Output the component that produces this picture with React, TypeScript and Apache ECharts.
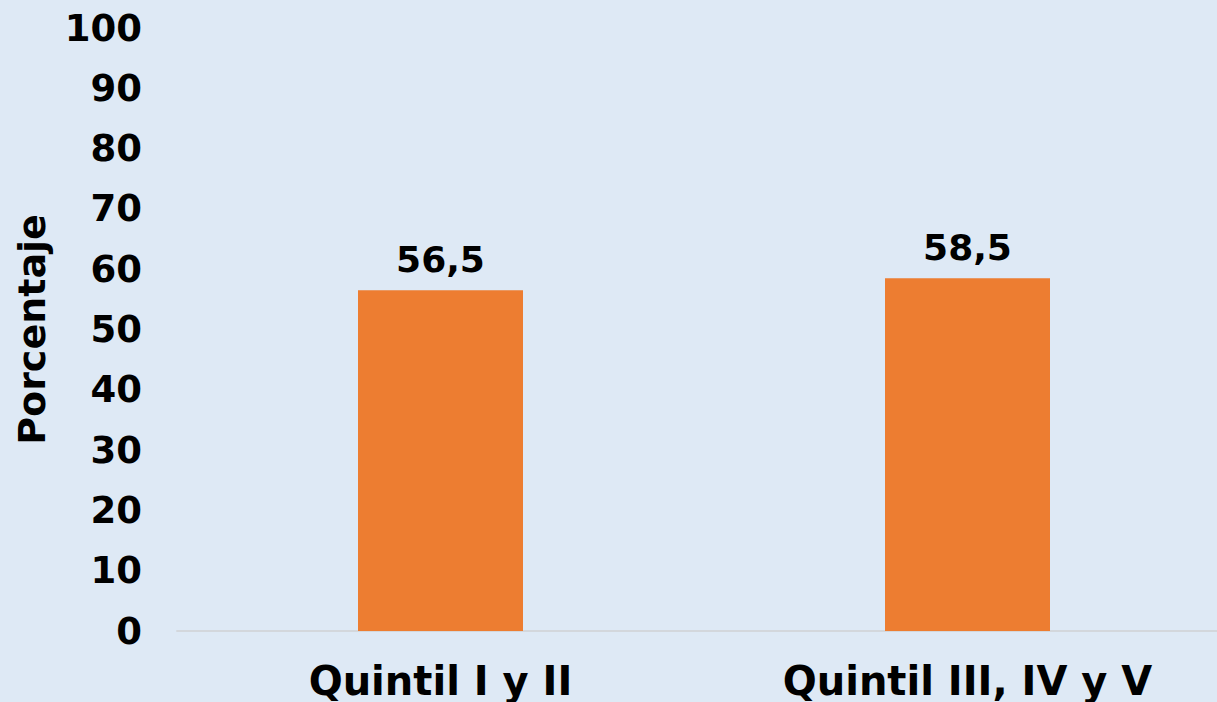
import React, { useEffect, useRef } from "react";
import * as echarts from "echarts";

const categories = ["Quintil I y II", "Quintil III, IV y V"];
const values = [56.5, 58.5];
const yAxisName = "Porcentaje";

export default function App() {
  const ref = useRef<HTMLDivElement>(null);
  useEffect(() => {
    if (!ref.current) return;
    const chart = echarts.init(ref.current, null, { renderer: "svg" });
    chart.setOption({
      animation: false,
      backgroundColor: "#dee9f5",
      textStyle: { fontFamily: "DejaVu Sans" },
      grid: { left: 177, top: 28, right: 0, bottom: 71, containLabel: false },
      xAxis: {
        type: "category",
        data: categories,
        axisTick: { show: false },
        axisLine: { lineStyle: { color: "#d3d7dc", width: 2 } },
        axisLabel: {
          color: "#000",
          fontWeight: "bold",
          fontSize: 40,
          lineHeight: 38,
          margin: 31,
          fontFamily: "DejaVu Sans",
        },
      },
      yAxis: {
        type: "value",
        min: 0,
        max: 100,
        interval: 10,
        name: yAxisName,
        nameLocation: "middle",
        nameGap: 126,
        nameTextStyle: {
          color: "#000",
          fontWeight: "bold",
          fontSize: 38,
          fontFamily: "DejaVu Sans",
        },
        splitLine: { show: false },
        axisLine: { show: false },
        axisTick: { show: false },
        axisLabel: {
          color: "#000",
          fontWeight: "bold",
          fontSize: 37,
          margin: 35,
          fontFamily: "DejaVu Sans",
        },
      },
      series: [
        {
          type: "bar",
          data: values,
          barWidth: 165,
          itemStyle: { color: "#ed7d31" },
          label: {
            show: true,
            position: "top",
            distance: 13,
            color: "#000",
            fontWeight: "bold",
            fontSize: 36,
            fontFamily: "DejaVu Sans",
            formatter: (p: any) => String(p.value).replace(".", ","),
          },
        },
      ],
    });
    return () => chart.dispose();
  }, []);
  return (
    <div
      ref={ref}
      style={{ position: "fixed", left: 0, top: 0, width: 1231, height: 702 }}
    />
  );
}
